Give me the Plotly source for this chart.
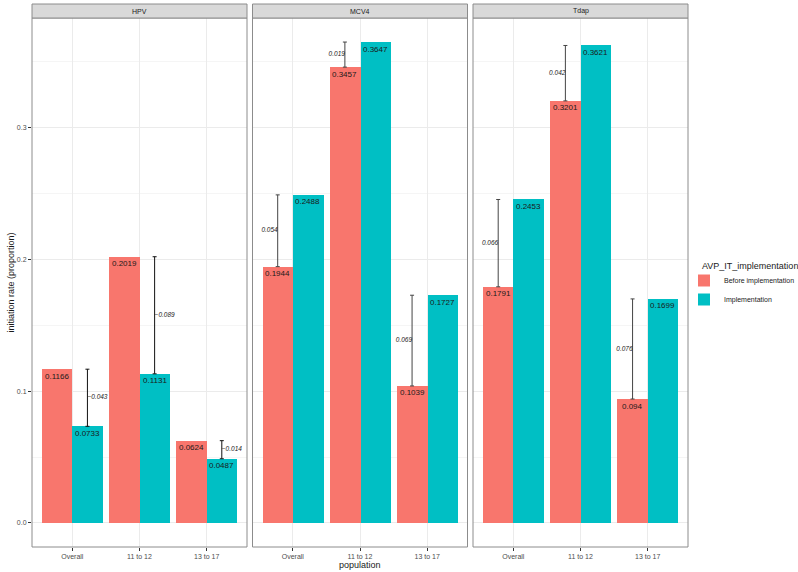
import plotly.graph_objects as go

vaccines = ["HPV", "MCV4", "Tdap"]
populations = ["Overall", "11 to 12", "13 to 17"]
groups = ["Before implementation", "Implementation"]
before = {
    "HPV": [0.1166, 0.2019, 0.0624],
    "MCV4": [0.1944, 0.3457, 0.1039],
    "Tdap": [0.1791, 0.3201, 0.094],
}
after = {
    "HPV": [0.0733, 0.1131, 0.0487],
    "MCV4": [0.2488, 0.3647, 0.1727],
    "Tdap": [0.2453, 0.3621, 0.1699],
}
diff_labels = {
    "HPV": ["−0.043", "−0.089", "−0.014"],
    "MCV4": ["0.054", "0.019", "0.069"],
    "Tdap": ["0.066", "0.042", "0.076"],
}
before_labels = {
    "HPV": ["0.1166", "0.2019", "0.0624"],
    "MCV4": ["0.1944", "0.3457", "0.1039"],
    "Tdap": ["0.1791", "0.3201", "0.094"],
}
after_labels = {
    "HPV": ["0.0733", "0.1131", "0.0487"],
    "MCV4": ["0.2488", "0.3647", "0.1727"],
    "Tdap": ["0.2453", "0.3621", "0.1699"],
}
colors = ["#F8766D", "#00BFC4"]

W, H = 798, 572
ml, mr, mt, mb = 32, 110, 18, 25
pw = W - ml - mr
ph = H - mt - mb
gap = 5.5
w = (pw - 2 * gap) / 3
domains = [[(i * (w + gap)) / pw, (i * (w + gap) + w) / pw] for i in range(3)]
domains[2][1] = 1.0

dodge = 0.45
xs = [i + 1 for i in range(len(populations))]
allv = [v for d in (before, after) for k in d for v in d[k]]
ymax = max(allv)
yrange = [-0.05 * ymax, ymax * 1.05]
FONT = "Liberation Sans, Arial"

fig = go.Figure()
for p, vac in enumerate(vaccines):
    xa = "x" if p == 0 else f"x{p+1}"
    b = before[vac]
    a = after[vac]
    xb = [x - dodge / 2 for x in xs]
    xi = [x + dodge / 2 for x in xs]
    fig.add_trace(go.Bar(x=xb, y=b, width=dodge, marker_color=colors[0], marker_line_width=0,
                         name=groups[0], legendgroup=groups[0], showlegend=(p == 0),
                         xaxis=xa, yaxis="y"))
    fig.add_trace(go.Bar(x=xi, y=a, width=dodge, marker_color=colors[1], marker_line_width=0,
                         name=groups[1], legendgroup=groups[1], showlegend=(p == 0),
                         xaxis=xa, yaxis="y"))
    for xx, yy, tt in zip(xb + xi, b + a, before_labels[vac] + after_labels[vac]):
        fig.add_annotation(x=xx, y=yy, xref=xa, yref="y", text=tt, showarrow=False,
                           yshift=-7, xanchor="center", yanchor="middle",
                           font=dict(size=8, color="#1a1a1a", family=FONT))
    ex, ey, eh, tpos = [], [], [], []
    for j in range(len(xs)):
        lo_x = xi[j] if a[j] < b[j] else xb[j]
        lo, hi = min(a[j], b[j]), max(a[j], b[j])
        ex.append(lo_x)
        ey.append((lo + hi) / 2)
        eh.append((hi - lo) / 2)
        tpos.append("middle right" if a[j] < b[j] else "middle left")
    ecol = "#111111" if vac == "HPV" else "#444444"
    fig.add_trace(go.Scatter(x=ex, y=ey, mode="markers", marker=dict(size=1, opacity=0),
                             error_y=dict(type="data", array=eh, symmetric=True,
                                          color=ecol, thickness=1, width=2),
                             showlegend=False, hoverinfo="skip", xaxis=xa, yaxis="y"))
    fig.add_trace(go.Scatter(x=ex, y=ey, mode="text",
                             text=[f"<i>{t}</i>" for t in diff_labels[vac]],
                             textposition=tpos,
                             textfont=dict(size=6.5, color="#222222", family=FONT),
                             showlegend=False, hoverinfo="skip", xaxis=xa, yaxis="y"))

tickfont = dict(size=7, color="#4D4D4D", family=FONT)
for p in range(3):
    key = "xaxis" if p == 0 else f"xaxis{p+1}"
    fig.layout[key] = dict(domain=domains[p], anchor="y", range=[0.4, 3.6],
                           tickvals=xs, ticktext=populations, showgrid=True,
                           gridcolor="#EBEBEB", gridwidth=1, zeroline=False,
                           ticks="outside", ticklen=3, tickcolor="#333333",
                           tickfont=tickfont, showline=False, fixedrange=True)
    xr = "x domain" if p == 0 else f"x{p+1} domain"
    fig.add_shape(type="rect", xref=xr, yref="y domain", x0=0, x1=1, y0=0, y1=1,
                  line=dict(color="#8C8C8C", width=1), fillcolor="rgba(0,0,0,0)", layer="above")
    fig.add_shape(type="rect", xref=xr, yref="y domain", x0=0, x1=1, y0=1, y1=1 + 14 / ph,
                  line=dict(color="#8C8C8C", width=1), fillcolor="#D9D9D9", layer="above")
    fig.add_annotation(xref=xr, yref="y domain", x=0.5, y=1 + 7 / ph, text=vaccines[p],
                       showarrow=False, font=dict(size=7, color="#1A1A1A", family=FONT),
                       xanchor="center", yanchor="middle")

fig.update_layout(
    width=W, height=H,
    margin=dict(l=ml, r=mr, t=mt, b=mb, autoexpand=False),
    paper_bgcolor="white", plot_bgcolor="white",
    barmode="overlay", bargap=0,
    yaxis=dict(range=yrange, dtick=0.1, tick0=0, tickformat=".1f", showgrid=True,
               gridcolor="#EBEBEB", gridwidth=1, zeroline=False,
               minor=dict(dtick=0.05, showgrid=True, gridcolor="#F5F5F5", gridwidth=0.5),
               ticks="outside", ticklen=3, tickcolor="#333333", tickfont=tickfont,
               showline=False, fixedrange=True, automargin=False),
    legend=dict(x=(684 - ml) / pw, xanchor="left", y=(mt + ph - 266) / ph, yanchor="top",
                font=dict(size=7, color="#1A1A1A", family=FONT),
                bgcolor="rgba(0,0,0,0)", tracegroupgap=0),
    font=dict(family=FONT),
)
fig.add_annotation(xref="paper", yref="paper", x=(700 - ml) / pw, y=(mt + ph - 266) / ph,
                   text="AVP_IT_implementation", showarrow=False,
                   font=dict(size=9, color="#1A1A1A", family=FONT),
                   xanchor="left", yanchor="middle")
fig.add_annotation(xref="paper", yref="paper", x=-22 / pw, y=0.5, text="initiation rate (proportion)",
                   textangle=-90, showarrow=False, font=dict(size=9, color="#1A1A1A", family=FONT),
                   xanchor="center", yanchor="middle")
fig.add_annotation(xref="paper", yref="paper", x=(360 - ml) / pw, y=-18 / ph, text="population",
                   showarrow=False, font=dict(size=9, color="#1A1A1A", family=FONT),
                   xanchor="center", yanchor="middle")

fig.write_html("out.html")
